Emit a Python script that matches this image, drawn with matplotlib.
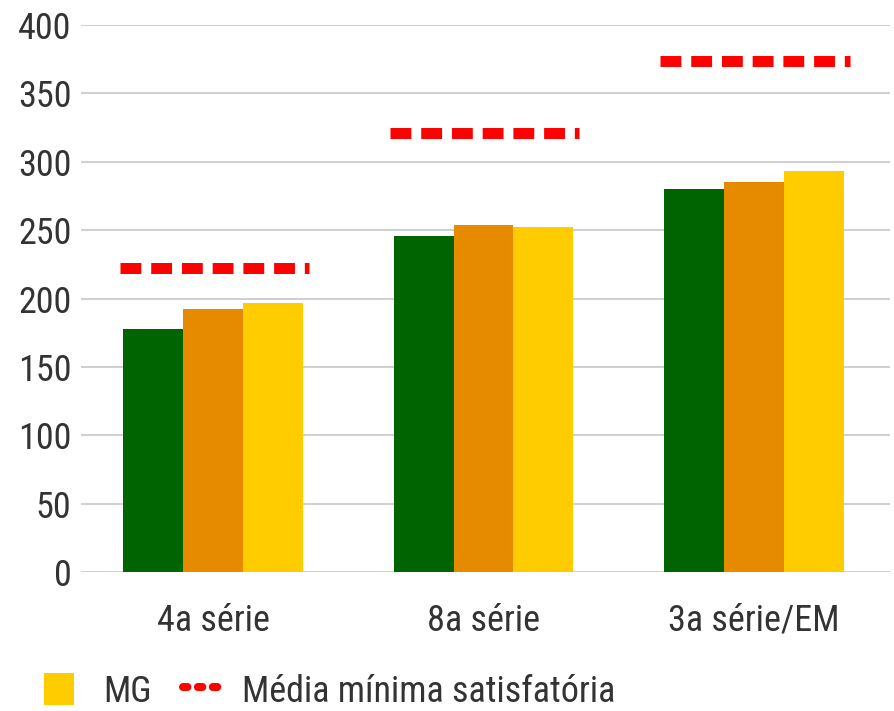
import matplotlib
matplotlib.use("Agg")
import matplotlib.pyplot as plt
import numpy as np
from matplotlib.lines import Line2D
from matplotlib.patches import Patch, Rectangle
from matplotlib.legend_handler import HandlerPatch

plt.rcParams['font.family'] = ['Liberation Sans Narrow', 'Roboto Condensed', 'DejaVu Sans']
plt.rcParams['font.stretch'] = 'condensed'

categories = ["4a série", "8a série", "3a série/EM"]
green_vals = [178, 246, 280]
orange_vals = [192, 254, 285]
mg_vals = [197, 252, 293]
min_satisf = [222, 321, 374]
yticks = [0, 50, 100, 150, 200, 250, 300, 350, 400]

C_GREEN = "#006400"
C_ORANGE = "#E68A00"
C_YELLOW = "#FFCC00"
C_RED = "#FF0000"
TXT = "#333333"
FS = 26

fig = plt.figure(figsize=(8.94, 7.11), dpi=100)
ax = fig.add_axes([0.0906, 0.1955, 0.905, 0.7693])

x = np.arange(len(categories))
w = 0.222
ax.bar(x - w, green_vals, w, color=C_GREEN, zorder=2)
ax.bar(x, orange_vals, w, color=C_ORANGE, zorder=2)
ax.bar(x + w, mg_vals, w, color=C_YELLOW, zorder=2)

for i, v in enumerate(min_satisf):
    ax.plot([i - 0.345, i + 0.355], [v, v], color=C_RED, lw=7.9,
            dashes=(1.9, 0.9), dash_capstyle='butt', zorder=3)

ax.set_xlim(-0.49, 2.505)
ax.set_ylim(0, 400)
ax.set_yticks(yticks)
ax.set_xticks(x)
ax.set_xticklabels(categories)
ax.yaxis.grid(True, color="#CCCCCC", lw=1.3, zorder=0)
ax.set_axisbelow(True)
for s in ax.spines.values():
    s.set_visible(False)
ax.tick_params(axis='both', length=0, labelsize=FS, labelcolor=TXT)
ax.tick_params(axis='y', pad=7)
ax.tick_params(axis='x', pad=22)


def narrow_patch(legend, orig_handle, xdescent, ydescent, width, height, fontsize):
    return Rectangle((-xdescent, -ydescent), width * 0.73, height)


handles = [Patch(facecolor=C_YELLOW, label="MG"),
           Line2D([0], [0], color=C_RED, lw=5.8, dashes=(0.55, 1.3),
                  dash_capstyle='round', label="Média mínima satisfatória")]
leg = fig.legend(handles=handles, loc='lower left', bbox_to_anchor=(0.049, 0.002), ncol=2,
                 frameon=False, fontsize=FS, handlelength=1.135, handleheight=1.0,
                 handletextpad=0.5, columnspacing=0.88, labelcolor=TXT,
                 borderpad=0, borderaxespad=0,
                 handler_map={Patch: HandlerPatch(patch_func=narrow_patch)})

fig.savefig("out.png", dpi=100)
